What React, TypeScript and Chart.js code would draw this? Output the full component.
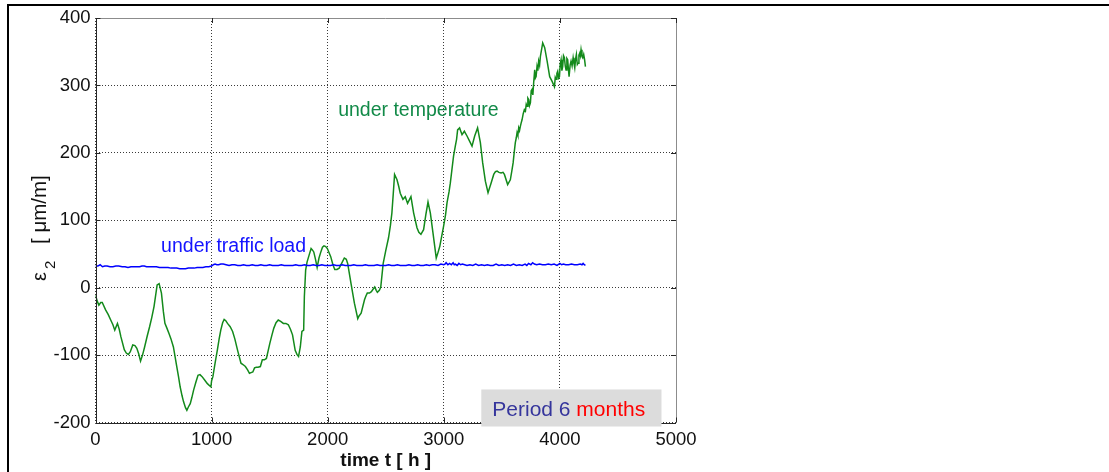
import React, { useEffect, useRef } from "react";
import { Chart, registerables } from "chart.js";

Chart.register(...registerables);

const FONT = '"Liberation Sans", Arial, Helvetica, sans-serif';

// Strain under temperature (green)
const tempTime = [
  0, 15, 29, 45, 58, 87, 110, 131, 150, 166, 189, 205, 219, 248, 265, 283, 300, 321, 340, 356, 372, 388, 405, 423, 445, 466, 485, 504, 531, 548, 568, 585, 598,
  615, 633, 650, 671, 700, 715, 729, 745, 758, 775, 787, 800, 816, 830, 845, 865, 883, 900, 918, 940, 962, 980, 994, 1000, 1011, 1030, 1049, 1065, 1079, 1095, 1108, 1122, 1137, 1160, 1181, 1200, 1224,
  1253, 1270, 1291, 1310, 1326, 1340, 1355, 1370, 1385, 1400, 1420, 1437, 1455, 1472, 1501, 1520, 1536, 1555, 1574, 1595, 1618, 1640, 1661, 1680, 1697, 1720, 1735, 1749, 1764, 1778, 1793, 1799,
  1810, 1822, 1836, 1857, 1868, 1880, 1895, 1909, 1925, 1939, 1955, 1968, 1983, 1997, 2026, 2045, 2061, 2080, 2099, 2120, 2143, 2160, 2172, 2201, 2230, 2259, 2270, 2288, 2317, 2330, 2341, 2360, 2376,
  2392, 2405, 2418, 2428, 2445, 2457, 2478, 2500, 2524, 2540, 2553, 2565, 2576, 2597, 2612, 2625, 2648, 2668, 2688, 2705, 2717, 2740, 2769, 2785, 2803, 2826, 2845, 2864, 2884, 2907,
  2935, 2950, 2965, 2998, 3015, 3028, 3045, 3056, 3070, 3084, 3099, 3110, 3119, 3136, 3157, 3177, 3200, 3223, 3243, 3266, 3291, 3315, 3335, 3358, 3381,
  3407, 3430, 3445, 3459, 3475, 3493, 3510, 3522, 3550, 3573, 3585, 3597, 3606, 3616, 3624, 3631, 3638, 3645, 3652, 3659, 3666, 3674, 3684, 3694, 3703, 3710, 3717, 3724, 3731, 3738, 3746, 3753, 3760, 3767, 3774,
  3783, 3789, 3795, 3803, 3810, 3817, 3825, 3832, 3852, 3869, 3890, 3912, 3933, 3953, 3960, 3967, 3974, 3981, 3989, 3996, 4003, 4010, 4017, 4024, 4031, 4039, 4046, 4053, 4060, 4067, 4073, 4079,
  4088, 4096, 4105, 4114, 4121, 4128, 4135, 4142, 4150, 4157, 4164, 4171, 4176, 4182, 4190, 4197, 4205, 4212, 4220,
];
const tempStrain = [
  -11, -20, -26, -22, -22, -33, -40, -48, -55, -63, -53, -62, -73, -92, -97, -99, -95, -85, -86, -90, -98, -109, -100, -88, -72, -58, -44, -28, 4, 6, -8, -36, -53,
  -60, -68, -76, -88, -117, -132, -147, -160, -169, -178, -182, -177, -172, -163, -152, -140, -130, -129, -132, -137, -142, -145, -147, -138, -132, -112, -93, -76, -63, -52, -47, -49, -53, -58, -65, -76, -93,
  -112, -114, -117, -122, -127, -126, -125, -119, -118, -118, -117, -107, -107, -105, -83, -70, -60, -52, -48, -50, -53, -53, -55, -62, -70, -93, -99, -102, -88, -65, -63, -13,
  26, 38, 46, 58, 56, 53, 42, 30, 44, 52, 60, 62, 61, 58, 46, 34, 27, 27, 29, 36, 44, 42, 36, 6, -23, -46, -42, -38, -18, -12, -8, -8, -6,
  -2, 1, -4, -7, -4, 1, 36, 55, 74, 92, 111, 140, 168, 160, 150, 140, 131, 135, 125, 131, 135, 111, 89, 82, 79, 86, 108, 127, 111, 81,
  44, 52, 61, 91, 108, 126, 142, 155, 175, 195, 210, 220, 234, 237, 227, 232, 225, 217, 210, 225, 237, 215, 185, 158, 141,
  155, 168, 172, 173, 171, 170, 171, 168, 153, 160, 172, 185, 200, 215, 222, 230, 226, 237, 233, 239, 244, 249, 258, 264, 262, 272, 269, 281, 279, 270, 274, 292, 294, 286, 304,
  323, 311, 313, 328, 322, 336, 330, 343, 363, 356, 336, 313, 306, 298, 312, 309, 318, 321, 311, 313, 332, 338, 322, 328, 344, 341, 329, 323, 340, 338, 325, 313,
  330, 336, 329, 341, 333, 326, 339, 346, 331, 333, 345, 348, 344, 353, 343, 341, 346, 339, 328,
];

// Strain under traffic load (blue)
const trafficTime = [
  0, 20, 40, 60, 80, 100, 125, 150, 175, 200, 230, 255, 280, 305, 330, 355, 380, 400, 420, 440, 460, 480, 500, 525, 550, 575, 600, 625, 650, 675, 700, 725, 750, 775, 800, 825, 850,
  875, 900, 925, 950, 975, 1000, 1015, 1030, 1045, 1060, 1080, 1100, 1125, 1150, 1175, 1200, 1225, 1250, 1275, 1300, 1325, 1350, 1375, 1400, 1425, 1450, 1475, 1500, 1525, 1550, 1575, 1600, 1625, 1650, 1675, 1700, 1725, 1750, 1775, 1800,
  1825, 1850, 1875, 1900, 1925, 1950, 1975, 2000, 2025, 2050, 2075, 2100, 2125, 2150, 2175, 2200, 2225, 2250, 2275, 2300, 2325, 2350, 2375, 2400, 2425, 2450, 2475, 2500, 2525, 2550, 2575, 2600, 2625, 2650, 2675, 2700, 2725, 2750, 2775, 2800,
  2825, 2850, 2875, 2900, 2925, 2950, 2975, 3000, 3010, 3020, 3035, 3050, 3065, 3080, 3090, 3100, 3115, 3130, 3145, 3160, 3180, 3200, 3225, 3250, 3275, 3300, 3325, 3350, 3375, 3400, 3425, 3450, 3475, 3500, 3525, 3550, 3575, 3600, 3625, 3650,
  3675, 3700, 3715, 3730, 3750, 3765, 3780, 3800, 3825, 3850, 3875, 3900, 3925, 3950, 3975, 4000, 4015, 4030, 4050, 4075, 4100, 4125, 4150, 4175, 4190, 4200, 4210, 4220,
];
const trafficStrain = [
  32, 32, 34, 31, 32, 32, 31, 31, 32, 32, 31, 31, 30, 31, 31, 31, 31, 32, 32, 31, 31, 31, 31, 31, 30, 30, 30, 30, 29, 29, 29, 28, 28, 28, 29, 29, 29,
  30, 30, 30, 31, 31, 32, 34, 35, 34, 34, 35, 35, 34, 33, 34, 34, 33, 33, 34, 33, 33, 34, 33, 33, 34, 33, 33, 34, 33, 33, 33, 34, 33, 33, 33, 33, 34, 33, 33, 34,
  33, 33, 34, 33, 33, 34, 33, 33, 33, 34, 33, 33, 34, 33, 33, 33, 34, 33, 33, 33, 34, 33, 33, 33, 34, 33, 33, 33, 34, 33, 33, 34, 33, 33, 33, 34, 33, 33, 34, 33,
  33, 34, 33, 34, 34, 33, 35, 34, 35, 37, 34, 36, 34, 37, 34, 35, 33, 36, 34, 35, 34, 33, 34, 33, 35, 33, 34, 33, 34, 33, 33, 35, 33, 34, 33, 34, 33, 35, 33, 34,
  33, 35, 33, 36, 34, 37, 35, 34, 35, 34, 34, 35, 34, 35, 33, 36, 34, 35, 34, 34, 35, 34, 34, 35, 34, 36, 34, 33,
];

const xTicks = [0, 1000, 2000, 3000, 4000, 5000];
const yTicks = [-200, -100, 0, 100, 200, 300, 400];

const tempLabel = "under temperature";
const trafficLabel = "under traffic load";
const xTitle = "time t [ h ]";
const yTitleSymbol = "ε";
const yTitleSub = "2";
const yTitleUnit = "[ μm/m]";
const periodText = "Period 6 ";
const periodUnit = "months";

const GREEN = "#138a1b";
const BLUE = "#0000ff";

const decorPlugin = {
  id: "decor",
  afterDraw(chart: any) {
    const { ctx, chartArea: a, scales } = chart;
    const x = scales.x;
    const y = scales.y;
    ctx.save();
    // axes box
    ctx.lineWidth = 1;
    ctx.strokeStyle = "#8c8c8c";
    ctx.beginPath();
    ctx.moveTo(a.left, Math.round(a.top) + 0.5);
    ctx.lineTo(a.right, Math.round(a.top) + 0.5);
    ctx.moveTo(Math.round(a.right) + 0.5, a.top);
    ctx.lineTo(Math.round(a.right) + 0.5, a.bottom);
    ctx.stroke();
    ctx.strokeStyle = "#262626";
    ctx.beginPath();
    ctx.moveTo(Math.round(a.left) + 0.5, a.top);
    ctx.lineTo(Math.round(a.left) + 0.5, a.bottom);
    ctx.moveTo(a.left, Math.round(a.bottom) + 0.5);
    ctx.lineTo(a.right, Math.round(a.bottom) + 0.5);
    ctx.stroke();
    // inward tick marks
    ctx.strokeStyle = "#262626";
    ctx.beginPath();
    xTicks.forEach((t) => {
      const px = Math.round(x.getPixelForValue(t)) + 0.5;
      ctx.moveTo(px, a.bottom);
      ctx.lineTo(px, a.bottom - 5);
      ctx.moveTo(px, a.top);
      ctx.lineTo(px, a.top + 5);
    });
    yTicks.forEach((v) => {
      const py = Math.round(y.getPixelForValue(v)) + 0.5;
      ctx.moveTo(a.left, py);
      ctx.lineTo(a.left + 5, py);
      ctx.moveTo(a.right, py);
      ctx.lineTo(a.right - 5, py);
    });
    ctx.stroke();

    // series annotations
    ctx.textBaseline = "alphabetic";
    ctx.textAlign = "left";
    ctx.font = `19.5px ${FONT}`;
    ctx.fillStyle = "#128a48";
    ctx.fillText(tempLabel, x.getPixelForValue(2090), y.getPixelForValue(254));
    ctx.fillStyle = "#1414ff";
    ctx.fillText(trafficLabel, x.getPixelForValue(565), y.getPixelForValue(53));

    // y axis title
    ctx.save();
    ctx.translate(46, 281);
    ctx.rotate(-Math.PI / 2);
    ctx.fillStyle = "#111";
    ctx.font = `20px ${FONT}`;
    ctx.fillText(yTitleSymbol, 0, 0);
    const w = ctx.measureText(yTitleSymbol).width;
    ctx.font = `15px ${FONT}`;
    ctx.fillText(yTitleSub, w + 3, 9);
    ctx.font = `20.5px ${FONT}`;
    ctx.fillText(yTitleUnit, 37, 0);
    ctx.restore();

    // period box
    const bx = x.getPixelForValue(3323);
    const bx2 = x.getPixelForValue(4875);
    const by = y.getPixelForValue(-151);
    const by2 = a.bottom + 4;
    ctx.fillStyle = "#dcdcdc";
    ctx.fillRect(bx, by, bx2 - bx, by2 - by);
    ctx.font = `21px ${FONT}`;
    ctx.fillStyle = "#35359c";
    ctx.fillText(periodText, bx + 11, by + 27);
    const pw = ctx.measureText(periodText).width;
    ctx.fillStyle = "#ff0000";
    ctx.fillText(periodUnit, bx + 11 + pw, by + 27);
    ctx.restore();
  },
};

export default function App() {
  const canvasRef = useRef<HTMLCanvasElement | null>(null);

  useEffect(() => {
    const canvas = canvasRef.current;
    if (!canvas) return;
    const chart = new Chart(canvas, {
      type: "line",
      data: {
        datasets: [
          {
            label: trafficLabel,
            data: trafficTime.map((t, i) => ({ x: t, y: trafficStrain[i] })),
            borderColor: BLUE,
            borderWidth: 1.5,
            pointRadius: 0,
            tension: 0,
            fill: false,
          },
          {
            label: tempLabel,
            data: tempTime.map((t, i) => ({ x: t, y: tempStrain[i] })),
            borderColor: GREEN,
            borderWidth: 1.5,
            pointRadius: 0,
            tension: 0,
            fill: false,
          },
        ],
      },
      options: {
        responsive: false,
        animation: false,
        devicePixelRatio: 1,
        layout: { padding: { left: 0, right: 433, top: 18, bottom: 0 } },
        plugins: {
          legend: { display: false },
          tooltip: { enabled: false },
        },
        scales: {
          x: {
            type: "linear",
            min: 0,
            max: 5000,
            afterBuildTicks: (scale: any) => {
              scale.ticks = xTicks.map((v) => ({ value: v }));
            },
            afterFit: (scale: any) => {
              scale.height = 49.5;
            },
            ticks: {
              font: { family: FONT, size: 18.5 },
              color: "#111",
              padding: 6,
              maxRotation: 0,
              callback: (v: any) => String(v),
            },
            grid: { color: "#3a3a3a", drawTicks: false, lineWidth: 1 },
            border: { display: false, dash: [1, 2] },
            title: {
              display: true,
              text: xTitle,
              color: "#111",
              font: { family: FONT, size: 19, weight: "bold" },
              padding: { top: 0, bottom: 0 },
            },
          },
          y: {
            type: "linear",
            min: -200,
            max: 400,
            afterBuildTicks: (scale: any) => {
              scale.ticks = yTicks.map((v) => ({ value: v }));
            },
            afterFit: (scale: any) => {
              scale.width = 95.5;
            },
            ticks: {
              font: { family: FONT, size: 18.5 },
              color: "#111",
              padding: 5,
              callback: (v: any) => String(v),
            },
            grid: { color: "#3a3a3a", drawTicks: false, lineWidth: 1 },
            border: { display: false, dash: [1, 2] },
          },
        },
      },
      plugins: [decorPlugin],
    });
    return () => chart.destroy();
  }, []);

  return (
    <div
      style={{
        position: "fixed",
        left: 0,
        top: 0,
        width: 1109,
        height: 472,
        background: "#fff",
        overflow: "hidden",
      }}
    >
      <canvas ref={canvasRef} width={1109} height={472} style={{ display: "block" }} />
      <div
        style={{
          position: "absolute",
          left: 7,
          top: 4,
          right: 0,
          bottom: 0,
          borderTop: "2px solid #000",
          borderLeft: "2px solid #000",
          pointerEvents: "none",
        }}
      />
    </div>
  );
}
